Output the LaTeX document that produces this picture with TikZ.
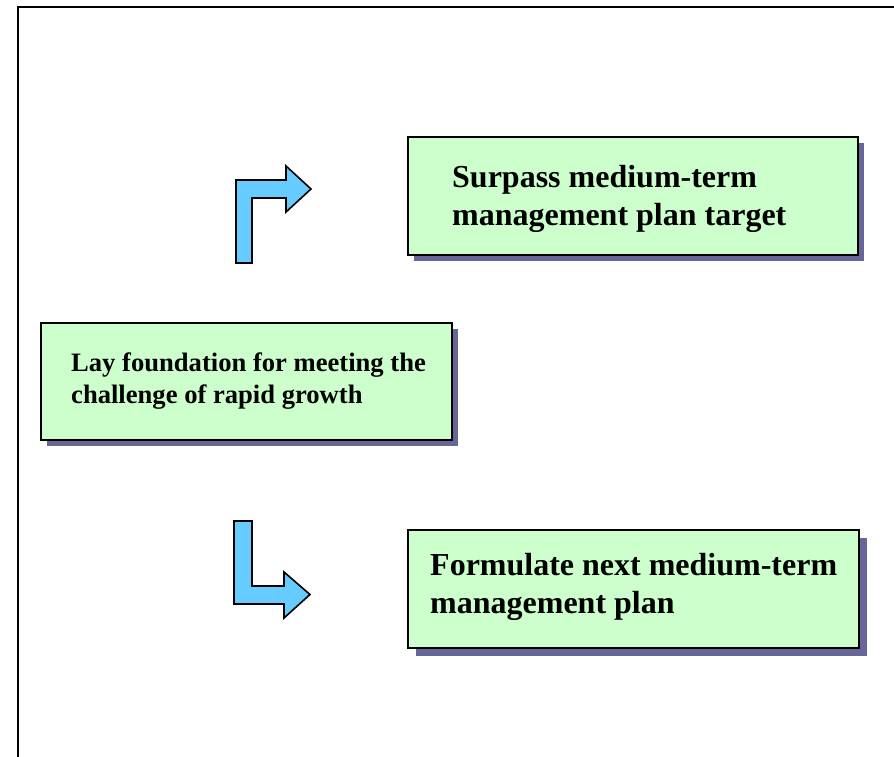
\documentclass[tikz,border=0pt]{standalone}
\usepackage{fontspec}
\setmainfont{Liberation Serif}
\usetikzlibrary{shadows}
\definecolor{boxfill}{HTML}{CCFFCC}
\definecolor{boxshade}{HTML}{666699}
\definecolor{arrowfill}{HTML}{66CCFF}
\tikzset{
  card/.style={draw=black, line width=1.6pt, fill=boxfill, anchor=north west,
    inner sep=0pt, outer sep=0pt,
    general shadow={fill=boxshade, shadow xshift=#1pt, shadow yshift=-#1pt}},
  card/.default=6,
  cardtext/.style={anchor=west, align=left, inner sep=0pt, font=\bfseries},
  bigtext/.style={cardtext, font=\bfseries\fontsize{32}{38}\selectfont},
  smalltext/.style={cardtext, font=\bfseries\fontsize{26.6}{32}\selectfont},
  blockarrow/.style={draw=black, line width=1.6pt, fill=arrowfill, line join=miter},
  frameline/.style={draw=black, line width=2pt}
}
\begin{document}
\begin{tikzpicture}[x=1pt, y=-1pt]
  \useasboundingbox (0,0) rectangle (894,757);

  % outer frame (top and left edges)
  \draw[frameline] (17.5,757) -- (17.5,7.5) -- (894,7.5);

  % cards
  \node[card, minimum width=450pt, minimum height=118pt] (b1) at (408,137) {};
  \node[card, minimum width=411pt, minimum height=117pt] (b2) at (41,323) {};
  \node[card=8, minimum width=451pt, minimum height=118pt] (b3) at (408,530) {};

  \node[bigtext] (t1) at ([xshift=44pt, yshift=-3pt]b1.west)
    {Surpass medium-term\\management plan target};
  \node[smalltext] (t2) at ([xshift=30pt, yshift=0pt]b2.west)
    {Lay foundation for meeting the\\challenge of rapid growth};
  \node[bigtext] (t3) at ([xshift=22pt, yshift=2pt]b3.west)
    {Formulate next medium-term\\management plan};

  % bent block arrows
  \draw[blockarrow] (236,263) -- (236,180) -- (286,180) -- (286,166)
    -- (311,189) -- (286,212) -- (286,198) -- (252,198) -- (252,263) -- cycle;
  \draw[blockarrow] (234,521) -- (252,521) -- (252,586) -- (284,586)
    -- (284,572) -- (310,594.5) -- (284,618) -- (284,604) -- (234,604) -- cycle;
\end{tikzpicture}
\end{document}
